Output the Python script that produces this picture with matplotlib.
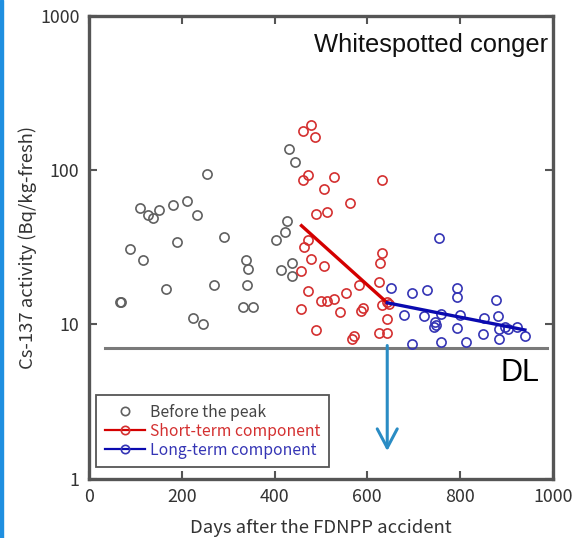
import numpy as np
import matplotlib
matplotlib.use("Agg")
import matplotlib.pyplot as plt
from matplotlib.lines import Line2D

# Cs-137 in whitespotted conger
before_days = [66, 69, 88, 109, 116, 127, 137, 151, 166, 181, 189, 210, 223, 233, 245,
               254, 269, 291, 331, 339, 340, 343, 353, 402, 414, 423, 426, 430, 437, 437, 445]
before_vals = [14.0, 14.0, 31.0, 56.8, 26.0, 50.9, 48.7, 54.9, 17.0, 59.1, 34.0, 62.8, 11.0, 50.9, 10.0,
               94.8, 17.9, 36.8, 13.0, 26.0, 17.9, 23.0, 13.0, 35.1, 22.5, 39.5, 46.8, 137, 24.9, 20.6, 113]

short_days = [458, 458, 461, 462, 464, 471, 473, 473, 478, 478, 487, 489, 489, 500, 507, 507, 514, 514,
              528, 528, 542, 553, 562, 568, 571, 583, 586, 591, 625, 625, 627, 632, 632, 632, 643, 643, 643, 647]
short_vals = [22.3, 12.6, 180, 86.3, 31.6, 35.2, 92.5, 16.5, 197, 26.4, 163, 52.1, 9.2, 14.1, 75.1, 23.9, 53.2, 14.2,
              89.8, 14.5, 12.0, 16.0, 61.2, 8.0, 8.4, 17.9, 12.3, 12.7, 18.9, 8.75, 25.1, 85.9, 28.9, 13.4, 14.0, 10.8, 8.75, 13.6]

long_days = [651, 680, 696, 697, 723, 728, 743, 745, 748, 755, 760, 760, 794, 794, 794, 800, 814,
             850, 852, 877, 883, 884, 884, 898, 904, 924, 940]
long_vals = [17.3, 11.5, 7.5, 15.9, 11.4, 16.7, 9.6, 10.3, 9.9, 36.1, 11.7, 7.7, 17.1, 15.1, 9.5, 11.5, 7.7,
             8.6, 11.0, 14.3, 11.4, 9.4, 8.1, 9.6, 9.4, 9.6, 8.4]

# fitted components (end points)
short_fit_days = [458, 643]
short_fit_vals = [43.6, 13.8]
long_fit_days = [643, 940]
long_fit_vals = [13.8, 9.2]

DL = 7.0
dl_days = [34, 987]

gray = "#606060"
red = "#d43030"
blue = "#3535b5"
jp = ["Noto Sans CJK JP", "DejaVu Sans"]

fig = plt.figure(figsize=(5.74, 5.38), dpi=100)
ax = fig.add_axes([0.1554, 0.1102, 0.8075, 0.8606])

ms = 6.6
mew = 1.2
ax.plot(dl_days, [DL, DL], color="#7a7a7a", lw=2.2, zorder=1)
ax.plot(before_days, before_vals, "o", ms=ms, mfc="none", mec=gray, mew=mew, zorder=3)
ax.plot(short_days, short_vals, "o", ms=ms, mfc="none", mec=red, mew=mew, zorder=3)
ax.plot(long_days, long_vals, "o", ms=ms, mfc="none", mec=blue, mew=mew, zorder=3)
ax.plot(short_fit_days, short_fit_vals, color="#d40000", lw=2.4, zorder=4)
ax.plot(long_fit_days, long_fit_vals, color="#0a0ab0", lw=2.4, zorder=4)

ax.annotate("", xy=(643, 1.45), xytext=(643, 7.6),
            arrowprops=dict(arrowstyle="->,head_length=0.68,head_width=0.36",
                            color="#2a8cc4", lw=2.2, mutation_scale=20), zorder=5)

ax.text(929, 4.84, "DL", fontsize=22, family="Liberation Sans", ha="center", va="center")
ax.text(738, 650, "Whitespotted conger", fontsize=18.4, family="Liberation Sans",
        ha="center", va="center", color="#111111")

ax.set_yscale("log")
ax.set_xlim(0, 1000)
ax.set_ylim(1, 1000)
ax.set_xticks([0, 200, 400, 600, 800, 1000])
ax.set_yticks([1, 10, 100, 1000])
ax.set_yticklabels(["1", "10", "100", "1000"])
ax.minorticks_off()
ax.tick_params(direction="in", length=6, width=1.5, color="#555555", top=True, right=True,
               labelsize=12.8, labelcolor="#333333", pad=7)
for lab in ax.get_xticklabels() + ax.get_yticklabels():
    lab.set_family(jp)
for s in ax.spines.values():
    s.set_linewidth(2.4)
    s.set_color("#555555")

ax.set_xlabel("Days after the FDNPP accident", fontsize=13.3, family=jp, color="#333333", labelpad=9)
ax.set_ylabel("Cs-137 activity (Bq/kg-fresh)", fontsize=13.3, family=jp, color="#333333", labelpad=2)

handles = [
    Line2D([], [], ls="none", marker="o", ms=6, mfc="none", mec=gray, mew=1.2),
    Line2D([], [], color="#d40000", lw=1.6, marker="o", ms=6, mfc="none", mec=red, mew=1.2),
    Line2D([], [], color="#0a0ab0", lw=1.6, marker="o", ms=6, mfc="none", mec=blue, mew=1.2),
]
leg = ax.legend(handles, ["Before the peak", "Short-term component", "Long-term component"],
                loc="lower left", bbox_to_anchor=(0.0147, 0.025), borderaxespad=0, fancybox=False,
                prop={"family": jp, "size": 11.3}, handlelength=2.6, handletextpad=0.3,
                labelspacing=0.12, borderpad=0.55, framealpha=1, edgecolor="#555555")
leg.get_frame().set_linewidth(1.3)
for t, c in zip(leg.get_texts(), ["#444444", red, blue]):
    t.set_color(c)

# blue border strip of the screenshot on the left
fig.patches.append(plt.Rectangle((0, 0), 0.005, 1, transform=fig.transFigure,
                                 color="#1f8fe0", zorder=10))

fig.savefig("out.png", dpi=100)
